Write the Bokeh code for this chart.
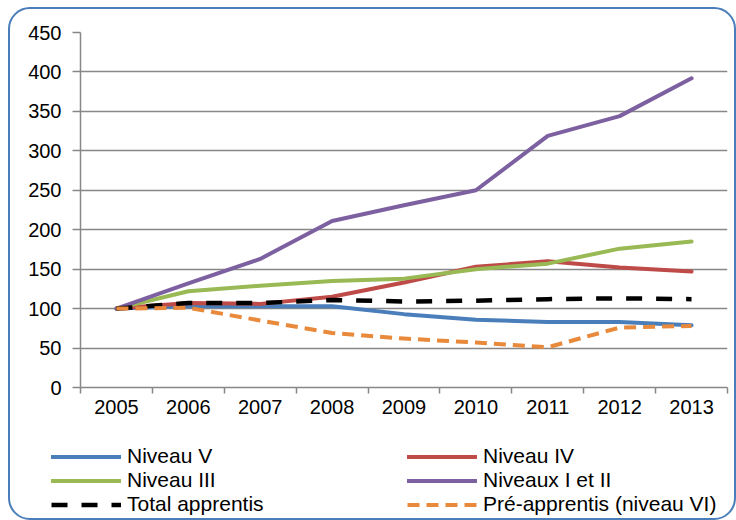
from bokeh.plotting import figure
from bokeh.models import Legend, LegendItem, FixedTicker, Range1d
from bokeh.layouts import column
from bokeh.embed import file_html
from bokeh.resources import INLINE

# ---- data (index, 2005 = 100) ----
years = ["2005", "2006", "2007", "2008", "2009", "2010", "2011", "2012", "2013"]
niveau_v = [100, 103, 103, 103, 93, 86, 83, 83, 79]
niveau_iv = [100, 107, 106, 115, 133, 153, 160, 152, 147]
niveau_iii = [100, 122, 129, 135, 138, 150, 157, 176, 185]
niveaux_i_ii = [100, 132, 163, 211, 231, 250, 319, 344, 392]
total_apprentis = [100, 107, 107, 111, 109, 110, 112, 113, 112]
pre_apprentis = [100, 101, 85, 69, 62, 57, 51, 76, 78]
y_ticks = [0, 50, 100, 150, 200, 250, 300, 350, 400, 450]

labels = ["Niveau V", "Niveau IV", "Niveau III", "Niveaux I et II",
          "Total apprentis", "Pré-apprentis (niveau VI)"]
series = [niveau_v, niveau_iv, niveau_iii, niveaux_i_ii, total_apprentis, pre_apprentis]
colors = ["#4A7EBB", "#BE4B48", "#98B954", "#7D60A0", "black", "#E9893B"]
dashes = ["solid", "solid", "solid", "solid", "16 14", "12 7"]
widths = [4, 4, 4, 4, 4.5, 4]

FONT = "Liberation Sans"
GRAY = "#878787"

x = [i + 0.5 for i in range(len(years))]

p = figure(width=724, height=418, output_backend="svg", toolbar_location=None,
           x_range=Range1d(0, len(years)), y_range=Range1d(y_ticks[0], y_ticks[-1]),
           min_border_left=70, min_border_right=7, min_border_top=23,
           min_border_bottom=40)
p.frame_align = False
p.outline_line_color = None
p.background_fill_color = "white"
p.border_fill_alpha = 0

# axes
p.xaxis.ticker = FixedTicker(ticks=x, minor_ticks=list(range(len(years) + 1)))
p.xaxis.major_label_overrides = {xi: yr for xi, yr in zip(x, years)}
p.xaxis.major_tick_line_color = None
p.xaxis.major_tick_out = 6
p.xaxis.major_tick_in = 0
p.xaxis.minor_tick_line_color = GRAY
p.xaxis.minor_tick_line_width = 1.5
p.xaxis.minor_tick_out = 6
p.xaxis.minor_tick_in = 0
p.xaxis.major_label_standoff = 6

p.yaxis.ticker = FixedTicker(ticks=y_ticks)
p.yaxis.major_tick_line_color = GRAY
p.yaxis.major_tick_line_width = 1.5
p.yaxis.major_tick_out = 8
p.yaxis.major_tick_in = 0
p.yaxis.minor_tick_line_color = None
p.yaxis.major_label_standoff = 11

for ax in (p.xaxis[0], p.yaxis[0]):
    ax.axis_line_color = GRAY
    ax.axis_line_width = 1.5
    ax.major_label_text_font = FONT
    ax.major_label_text_font_size = "20px"
    ax.major_label_text_color = "black"

p.xgrid.visible = False
p.ygrid.ticker = FixedTicker(ticks=y_ticks)
p.ygrid.grid_line_color = GRAY
p.ygrid.grid_line_width = 1.5

for ys, c, d, w in zip(series, colors, dashes, widths):
    cap = "round" if d == "solid" else "butt"
    p.line(x, ys, line_color=c, line_width=w, line_dash=d, line_cap=cap, line_join="round")

# ---- legend panel (separate figure below the chart) ----
q = figure(width=724, height=91, output_backend="svg", toolbar_location=None,
           x_range=Range1d(0, 1), y_range=Range1d(0, 1),
           x_axis_location=None, y_axis_location=None,
           min_border_left=0, min_border_right=0, min_border_top=0, min_border_bottom=0)
q.frame_align = False
q.grid.visible = False
q.outline_line_color = None
q.border_fill_alpha = 0
q.background_fill_alpha = 0

legend_renderers = []
for c, d, w in zip(colors, dashes, widths):
    cap = "round" if d == "solid" else "butt"
    # stand-in renderers (outside the visible range) that only carry the legend styles
    legend_renderers.append(q.line([-10, -9], [-10, -10], line_color=c, line_width=w,
                                   line_dash=d, line_cap=cap))


def make_legend(idx, vx, vy):
    return Legend(items=[LegendItem(label=labels[i], renderers=[legend_renderers[i]])
                         for i in idx],
                  location=(vx, vy), orientation="vertical",
                  glyph_width=70, glyph_height=23, label_height=23, label_standoff=6,
                  spacing=0, padding=0, margin=0, border_line_color=None,
                  background_fill_alpha=0, label_text_font=FONT,
                  label_text_font_size="21px", label_text_color="black")


q.add_layout(make_legend([0, 2, 4], 41, 2), "center")
q.add_layout(make_legend([1, 3, 5], 397, 2), "center")

layout = column(p, q, spacing=0)
layout.styles = {"border": "2px solid #4A7EBB", "border-radius": "22px",
                 "margin": "7px 0 0 8px"}

open("out.html", "w").write(file_html(layout, INLINE))
